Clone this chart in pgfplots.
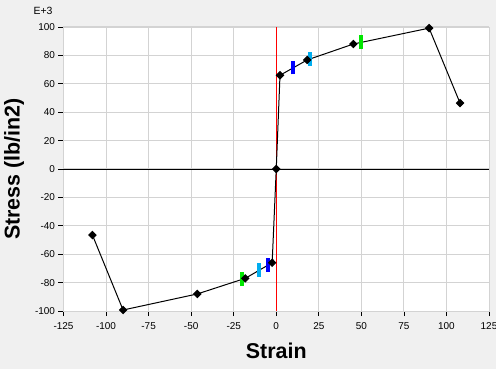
\documentclass[border=0pt]{standalone}
\usepackage{fontspec}
\setmainfont{Liberation Sans}
\usepackage{pgfplots}
\pgfplotsset{compat=1.18}
\usetikzlibrary{backgrounds}
\definecolor{bgc}{HTML}{F0F0F0}
\definecolor{gridc}{HTML}{D3D3D3}
\definecolor{bargreen}{HTML}{00E600}
\begin{document}
\begin{tikzpicture}[x=1bp,y=1bp]
\begin{axis}[
  name=ax,
  at={(0,0)}, anchor=south west,
  scale only axis, width=425.5bp, height=284bp,
  xmin=-125, xmax=125, ymin=-100, ymax=100,
  xtick={-125,-100,...,125}, ytick={-100,-80,...,100},
  tick pos=left, tick align=outside,
  major tick length=5bp,
  every tick/.style={black, line width=0.8bp},
  axis line style={gridc, line width=0.8bp},
  grid=major, grid style={gridc, line width=1bp},
  axis background/.style={fill=white},
  /pgf/number format/assume math mode=true,
  ticklabel style={font=\fontsize{10}{12}\selectfont},
  xticklabel style={yshift=-3bp},
  every axis x label/.style={at={(axis description cs:0.5,0)}, anchor=center, yshift=-40bp},
  every axis y label/.style={at={(axis description cs:0,0.5)}, anchor=center, rotate=90, yshift=49.5bp},
  xlabel={\fontsize{21.5}{24}\selectfont\bfseries Strain},
  ylabel={\fontsize{21.5}{24}\selectfont\bfseries Stress (lb/in2)},
  clip=false,
]
\addplot[black, line width=0.7bp, forget plot] coordinates {(-125,0) (125,0)};
\addplot[red, line width=1bp, forget plot] coordinates {(0,-100) (0,100)};
\addplot[black, line width=1bp, mark=diamond*, mark size=3.6bp, mark options={solid, xscale=1.33}] coordinates {
  (-108,-46.5) (-90,-99.3) (-46.4,-88) (-18.2,-77) (-2.4,-66) (0,0)
  (2.2,66) (18.2,76.8) (45.3,88) (89.8,99.2) (108,46.4)
};
% colored markers
\addplot[blue, line width=4bp] coordinates {(10,66.6) (10,76.2)};
\addplot[cyan, line width=4bp] coordinates {(19.8,72.8) (19.8,82.4)};
\addplot[bargreen, line width=4bp] coordinates {(50,84.4) (50,94.2)};
\addplot[bargreen, line width=4bp] coordinates {(-20,-82.4) (-20,-72.6)};
\addplot[cyan, line width=4bp] coordinates {(-10,-75.8) (-10,-66.4)};
\addplot[blue, line width=4bp] coordinates {(-5,-72.4) (-5,-62.8)};
\end{axis}
\node[font=\fontsize{10.5}{12}\selectfont] at (-20.5bp, 300bp) {E+3};
\begin{scope}[on background layer]
\fill[bgc] (-63.5bp,-58bp) rectangle (432.5bp,311bp);
\end{scope}
\pgfresetboundingbox
\path (-63.5bp,-58bp) rectangle (432.5bp,311bp);
\end{tikzpicture}
\end{document}
